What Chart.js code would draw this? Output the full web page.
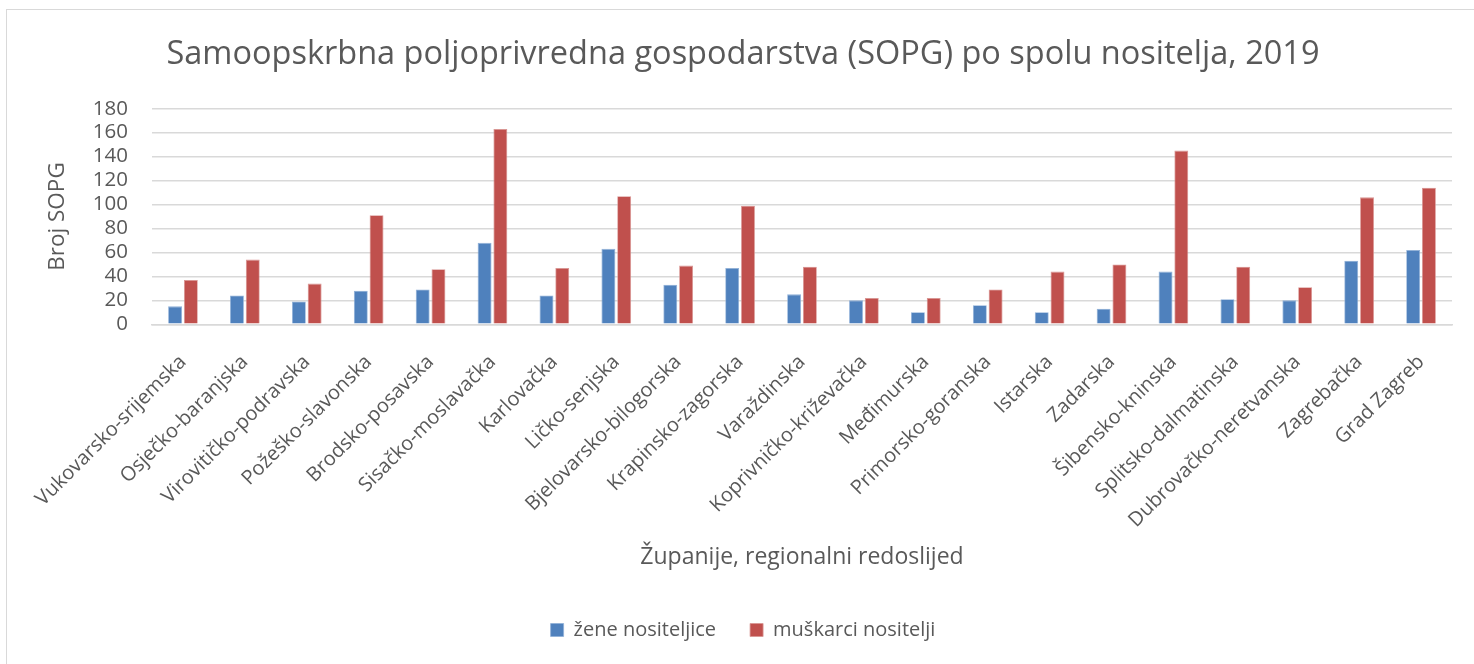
<!DOCTYPE html>
<html>
<head>
<meta charset="utf-8">
<script src="https://cdn.jsdelivr.net/npm/chart.js@4"></script>
<style>
  html, body { margin: 0; padding: 0; background: #fff; overflow: hidden; }
  #wrap { position: relative; width: 1474px; height: 664px; }
  #frame { position: absolute; left: 6px; top: 9px; width: 1480px; height: 700px; border-top: 1.5px solid #d9d9d9; border-left: 1.5px solid #d9d9d9; box-sizing: border-box; }
  canvas { position: absolute; left: 0; top: 0; }
</style>
</head>
<body>
<div id="wrap">
  <div id="frame"></div>
  <canvas id="c" width="1474" height="664"></canvas>
</div>
<script>
const categories = [
  "Vukovarsko-srijemska", "Osječko-baranjska", "Virovitičko-podravska", "Požeško-slavonska",
  "Brodsko-posavska", "Sisačko-moslavačka", "Karlovačka", "Ličko-senjska",
  "Bjelovarsko-bilogorska", "Krapinsko-zagorska", "Varaždinska", "Koprivničko-križevačka",
  "Međimurska", "Primorsko-goranska", "Istarska", "Zadarska", "Šibensko-kninska",
  "Splitsko-dalmatinska", "Dubrovačko-neretvanska", "Zagrebačka", "Grad Zagreb"
];
const zeneNositeljice = [15, 24, 19, 28, 29, 68, 24, 63, 33, 47, 25, 20, 10, 16, 10, 13, 44, 21, 20, 53, 62];
const muskarciNositelji = [37, 54, 34, 91, 46, 163, 47, 107, 49, 99, 48, 22, 22, 29, 44, 50, 145, 48, 31, 106, 114];
const seriesNames = ["žene nositeljice", "muškarci nositelji"];
const chartTitle = "Samoopskrbna poljoprivredna gospodarstva (SOPG) po spolu nositelja, 2019";
const xTitle = "Županije, regionalni redoslijed";
const yTitle = "Broj SOPG";

const FONT = "'Open Sans', 'Liberation Sans', sans-serif";
const TXT = "#595959";

new Chart(document.getElementById("c"), {
  type: "bar",
  data: {
    labels: categories,
    datasets: [
      { label: seriesNames[0], data: zeneNositeljice, backgroundColor: "#4F81BD",
        borderColor: "#8fb0d8", borderWidth: 0.8, barPercentage: 0.88, categoryPercentage: 0.51 },
      { label: seriesNames[1], data: muskarciNositelji, backgroundColor: "#C0504D",
        borderColor: "#d99593", borderWidth: 0.8, barPercentage: 0.88, categoryPercentage: 0.51 }
    ]
  },
  options: {
    responsive: false,
    animation: false,
    layout: { padding: { left: 34, right: 22, top: 10, bottom: 14 } },
    plugins: {
      title: {
        display: true, text: chartTitle, color: TXT,
        font: { family: FONT, size: 32.5, weight: "normal", lineHeight: 1.2 },
        padding: { top: 25.5, bottom: 34.2 }
      },
      legend: {
        position: "bottom",
        labels: { color: TXT, font: { family: FONT, size: 20 }, boxWidth: 13, boxHeight: 13, padding: 34 }
      },
      tooltip: { enabled: false }
    },
    scales: {
      x: {
        grid: { display: false, drawTicks: false },
        border: { display: true, color: "#d9d9d9", width: 1.5 },
        ticks: { color: TXT, font: { family: FONT, size: 20 }, autoSkip: false, minRotation: 45, maxRotation: 45, padding: 26 },
        title: { display: true, text: xTitle, color: TXT, font: { family: FONT, size: 23, lineHeight: 1.2 }, padding: { top: 0, bottom: 14.5 } },
        afterFit: (s) => { s.height = 261.7; }
      },
      y: {
        min: 0, max: 180,
        grid: { color: "#d9d9d9", lineWidth: 1.5, drawTicks: false },
        border: { display: false },
        ticks: { stepSize: 20, autoSkip: false, color: TXT, font: { family: FONT, size: 20.5 }, padding: 24 },
        title: { display: true, text: yTitle, color: TXT, font: { family: FONT, size: 22.5, lineHeight: 1.2 }, padding: { top: 10, bottom: 0 } },
        afterFit: (s) => { s.width = 118; }
      }
    }
  }
});
</script>
</body>
</html>
